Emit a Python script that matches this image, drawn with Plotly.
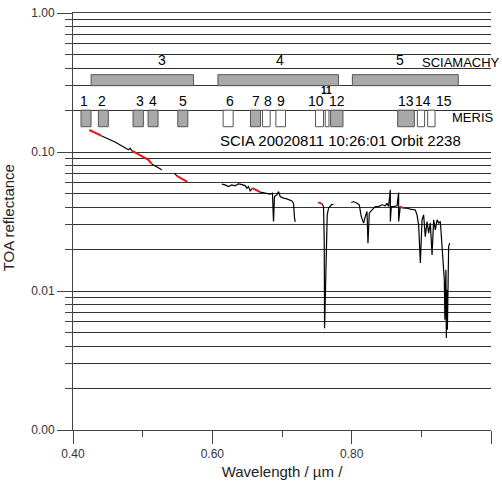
import math
import plotly.graph_objects as go

# ---------------- data ----------------
# SCIAMACHY channels (schematic ranges, µm)
scia_channels = ["3", "4", "5"]
scia_start = [0.426, 0.608, 0.801]
scia_end = [0.573, 0.781, 0.953]
scia_low, scia_high = 0.30, 0.36
scia_label_wl = [0.528, 0.697, 0.870]
scia_label_refl = 0.46

# MERIS bands (schematic ranges, µm)
meris_bands = ["1", "2", "3", "4", "5", "6", "7", "8", "9", "10", "11", "12", "13", "14", "15"]
meris_start = [0.4115, 0.4364, 0.4862, 0.5078, 0.5504, 0.6155, 0.6547, 0.6720, 0.6912,
               0.7481, 0.7621, 0.7697, 0.8660, 0.8943, 0.9091]
meris_end = [0.4259, 0.4507, 0.5010, 0.5221, 0.5648, 0.6299, 0.6691, 0.6830, 0.7050,
             0.7596, 0.7674, 0.7875, 0.8900, 0.9047, 0.9197]
meris_filled = [True, True, True, True, True, False, True, False, False,
                False, False, True, True, False, False]
meris_label_wl = [0.4162, 0.4412, 0.4963, 0.5154, 0.5580, 0.6256, 0.6629, 0.6806, 0.6984,
                  0.7491, 0.7645, 0.7789, 0.8784, 0.9024, 0.9330]
meris_low, meris_high = 0.152, 0.20
meris_label_refl = 0.233
meris_small_label_refl = 0.276

# SCIAMACHY TOA reflectance spectrum (black parts), None = gap
black_wl = [0.4412, 0.4603, 0.4795, 0.4819, 0.4843, None,
            0.5131, 0.5274, None,
            0.5455, 0.5490, None,
            0.6137, 0.6184, 0.6231, 0.6280, 0.6328, 0.6371, 0.6399, 0.6443, 0.6471, 0.6496,
            0.6519, 0.6543, 0.6576, None,
            0.6687, 0.6759, 0.6830, 0.6863, 0.6878, 0.6892, 0.6927, 0.6950, 0.6974, 0.7022,
            0.7070, 0.7142, 0.7165, 0.7180, 0.7190, None,
            0.7578, 0.7596, 0.7606, 0.7611, 0.7621, 0.7635, 0.7649, 0.7668, 0.7707, 0.7740, None,
            0.7994, 0.8027, 0.8076, 0.8109, 0.8138, 0.8171, 0.8195, 0.8220, 0.8234, 0.8253,
            0.8292, 0.8339, 0.8386, 0.8435, 0.8483, 0.8507, 0.8530, 0.8555, 0.8555, 0.8569,
            0.8602, 0.8651, 0.8674, 0.8674, 0.8698, None,
            0.8746, 0.8794, 0.8842, 0.8889, 0.8914, 0.8938, 0.8961, 0.8986, 0.9010, 0.9033,
            0.9057, 0.9082, 0.9105, 0.9129, 0.9154, 0.9177, 0.9201, 0.9226, 0.9249, 0.9273,
            0.9297, 0.9320, 0.9330, 0.9338, 0.9345, 0.9353, 0.9359, 0.9364, 0.9369, 0.9374,
            0.9381, 0.9386, 0.9392, 0.9407]
black_refl = [0.1305, 0.118, 0.1036, 0.1065, 0.1023, None,
              0.0821, 0.0744, None,
              0.0704, 0.0673, None,
              0.0587, 0.0580, 0.0564, 0.0580, 0.0571, 0.0590, 0.0587, 0.0580, 0.0573, 0.0549,
              0.0564, 0.0525, 0.0549, None,
              0.0514, 0.0504, 0.0497, 0.0505, 0.0316, 0.0478, 0.0492, 0.0519, 0.0478, 0.0466,
              0.0460, 0.0445, 0.0428, 0.0334, 0.0314, None,
              0.0423, 0.0405, 0.0233, 0.0054, 0.00865, 0.0233, 0.0353, 0.0394, 0.0417, 0.0421, None,
              0.0433, 0.0440, 0.0428, 0.0417, 0.0343, 0.0308, 0.0343, 0.0373, 0.0221, 0.0363,
              0.0383, 0.0405, 0.0405, 0.0417, 0.0410, 0.0428, 0.0405, 0.0534, 0.0316, 0.0405,
              0.0405, 0.0410, 0.0511, 0.0316, 0.0405, None,
              0.0394, 0.0394, 0.0388, 0.0383, 0.0383, 0.0353, 0.0299, 0.0159, 0.0325, 0.0353,
              0.0246, 0.0316, 0.0261, 0.0308, 0.0182, 0.0325, 0.0275, 0.0325, 0.0308, 0.0316,
              0.0221, 0.0142, 0.0120, 0.0062, 0.0102, 0.0142, 0.00459, 0.0102, 0.00865, 0.00526,
              0.0168, 0.0105, 0.0209, 0.0221]

# red parts of the spectrum
red_wl = [0.4234, 0.4412, None,
          0.4843, 0.4963, 0.5082, 0.5131, None,
          0.5490, 0.5642, None,
          0.6576, 0.6629, 0.6687, None,
          0.7520, 0.7578, None,
          0.8698, 0.8722, 0.8746]
red_refl = [0.144, 0.1305, None,
            0.1023, 0.0953, 0.0878, 0.0821, None,
            0.0673, 0.0610, None,
            0.0549, 0.0534, 0.0514, None,
            0.0434, 0.0423, None,
            0.0405, 0.0400, 0.0394]

y_tickvals = [0.001, 0.01, 0.1, 1.0]
y_ticktext = ["0.00", "0.01", "0.10", "1.00"]
x_tickvals = [0.4, 0.6, 0.8, 1.0]
x_ticktext = ["0.40", "0.60", "0.80", "1.00"]
x_minor = [0.5, 0.7, 0.9]

FONT = "Liberation Sans, Arial, Helvetica, sans-serif"
BAR_FILL = "#a9a9a9"
BAR_LINE = "#555555"


def rects(starts, ends, lo, hi):
    xs, ys = [], []
    for a, b in zip(starts, ends):
        xs += [a, b, b, a, a, None]
        ys += [lo, lo, hi, hi, lo, None]
    return xs, ys


fig = go.Figure()

# SCIAMACHY channel bars
sx, sy = rects(scia_start, scia_end, scia_low, scia_high)
fig.add_trace(go.Scatter(x=sx, y=sy, mode="lines", fill="toself", fillcolor=BAR_FILL,
                         line=dict(color=BAR_LINE, width=1), hoverinfo="skip", showlegend=False))

# MERIS bands
fs = [s for s, f in zip(meris_start, meris_filled) if f]
fe = [e for e, f in zip(meris_end, meris_filled) if f]
ws = [s for s, f in zip(meris_start, meris_filled) if not f]
we = [e for e, f in zip(meris_end, meris_filled) if not f]
mx, my = rects(fs, fe, meris_low, meris_high)
fig.add_trace(go.Scatter(x=mx, y=my, mode="lines", fill="toself", fillcolor=BAR_FILL,
                         line=dict(color=BAR_LINE, width=1), hoverinfo="skip", showlegend=False))
wx, wy = rects(ws, we, meris_low, meris_high)
fig.add_trace(go.Scatter(x=wx, y=wy, mode="lines", fill="toself", fillcolor="white",
                         line=dict(color=BAR_LINE, width=1), hoverinfo="skip", showlegend=False))

# spectrum
fig.add_trace(go.Scatter(x=black_wl, y=black_refl, mode="lines",
                         line=dict(color="black", width=1.2), connectgaps=False, showlegend=False))
fig.add_trace(go.Scatter(x=red_wl, y=red_refl, mode="lines",
                         line=dict(color="#e8141a", width=2), connectgaps=False, showlegend=False))

ann = []
for lab, xv in zip(scia_channels, scia_label_wl):
    ann.append(dict(x=xv, y=math.log10(scia_label_refl), text=lab, showarrow=False,
                    font=dict(size=14, color="black", family=FONT)))
ann.append(dict(x=0.8986, y=math.log10(0.44), text="SCIAMACHY", showarrow=False, xanchor="left",
                font=dict(size=13, color="black", family=FONT)))
for lab, xv in zip(meris_bands, meris_label_wl):
    if lab == "11":
        ann.append(dict(x=xv, y=math.log10(meris_small_label_refl), text="<b>11</b>", showarrow=False,
                        font=dict(size=10, color="black", family=FONT)))
    else:
        ann.append(dict(x=xv, y=math.log10(meris_label_refl), text=lab, showarrow=False,
                        font=dict(size=14, color="black", family=FONT)))
ann.append(dict(x=0.9417, y=math.log10(0.178), text="MERIS", showarrow=False, xanchor="left",
                font=dict(size=13, color="black", family=FONT)))
ann.append(dict(x=0.6083, y=math.log10(0.122), text="SCIA 20020811 10:26:01 Orbit 2238",
                showarrow=False, xanchor="left",
                font=dict(size=15, color="black", family=FONT)))
# y-axis title, near the left edge as in the original
ann.append(dict(xref="paper", yref="paper", x=-0.155, y=0.508, text="TOA reflectance",
                textangle=-90, showarrow=False, xanchor="center", yanchor="middle",
                font=dict(size=15, color="#222", family=FONT)))

y_minor = [m * 10.0 ** e for e in (-3, -2, -1) for m in range(2, 10)]

fig.update_layout(
    template="none",
    width=502, height=501,
    margin=dict(l=73, r=11, t=13, b=71, autoexpand=False),
    paper_bgcolor="white", plot_bgcolor="white",
    font=dict(family=FONT, color="#222"),
    showlegend=False,
    annotations=ann,
    xaxis=dict(
        range=[0.4, 1.0], tickvals=x_tickvals, ticktext=x_ticktext,
        ticks="outside", ticklen=13, tickwidth=1, tickcolor="#444",
        showline=True, linecolor="#444", linewidth=1, mirror=True,
        showgrid=False, zeroline=False,
        minor=dict(tickvals=x_minor, ticks="outside", ticklen=6, tickcolor="#444", showgrid=False),
        tickfont=dict(size=12, color="#333"),
        title=dict(text="Wavelength / µm /", font=dict(size=15, color="#222"), standoff=6),
        automargin=False,
    ),
    yaxis=dict(
        type="log", range=[-3, 0], tickvals=y_tickvals, ticktext=y_ticktext,
        ticks="outside", ticklen=15, tickwidth=1, tickcolor="#444",
        showline=True, linecolor="#444", linewidth=1,
        showgrid=True, gridcolor="#333", gridwidth=1, zeroline=False,
        minor=dict(tickvals=y_minor, ticks="outside", ticklen=7, tickcolor="#444",
                   showgrid=True, gridcolor="#333", gridwidth=1),
        tickfont=dict(size=12, color="#333"),
        automargin=False,
    ),
)

fig.write_html("out.html")
